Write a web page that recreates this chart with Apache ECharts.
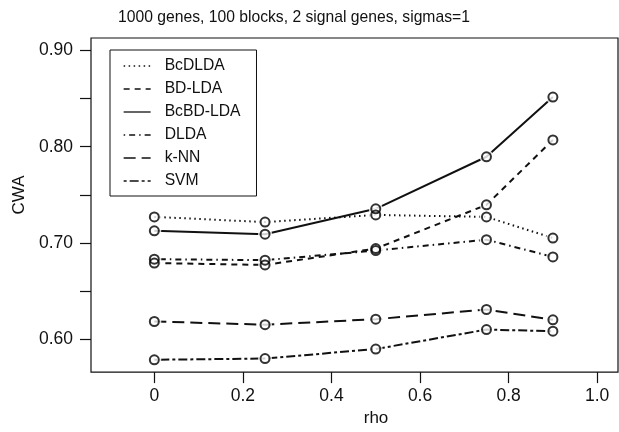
<!DOCTYPE html>
<html>
<head>
<meta charset="utf-8">
<script src="https://cdn.jsdelivr.net/npm/echarts@6/dist/echarts.min.js"></script>
<style>
html,body{margin:0;padding:0;background:#fff;}
#chart{width:619px;height:432px;}
</style>
</head>
<body>
<div id="chart"></div>
<script>
const rho = [0, 0.25, 0.5, 0.75, 0.9];
const seriesNames = ['BcDLDA', 'BD-LDA', 'BcBD-LDA', 'DLDA', 'k-NN', 'SVM'];
const bcdlda  = [0.727, 0.7216, 0.729, 0.727, 0.705];
const bdlda   = [0.679, 0.677, 0.694, 0.7395, 0.807];
const bcbdlda = [0.7125, 0.709, 0.7354, 0.7895, 0.8516];
const dlda    = [0.683, 0.682, 0.692, 0.7033, 0.6854];
const knn     = [0.6182, 0.6149, 0.6206, 0.6307, 0.620];
const svm     = [0.5784, 0.5797, 0.5896, 0.6098, 0.6081];
const xTicks = [0, 0.2, 0.4, 0.6, 0.8, 1.0];
const yTicks = [0.60, 0.65, 0.70, 0.75, 0.80, 0.85, 0.90];
const yLabels = [0.60, 0.70, 0.80, 0.90];
const titleText = '1000 genes, 100 blocks, 2 signal genes, sigmas=1';

const values = [bcdlda, bdlda, bcbdlda, dlda, knn, svm];
const dashes = [[1.5, 3.5], [6, 5], 'solid', [1.5, 4, 6, 4], [12, 6], [3, 3, 9, 3]];
const FONT = '"Liberation Sans", Arial, sans-serif';
const INK = '#111';

const pairs = v => rho.map((x, i) => [x, v[i]]);
const series = [];
values.forEach((v, k) => {
  series.push({
    name: seriesNames[k], type: 'line', data: pairs(v), symbol: 'none', color: INK,
    itemStyle: { color: INK, opacity: 0 },
    lineStyle: { color: INK, width: 2, type: dashes[k] }, z: 2, animation: false
  });
});
values.forEach((v, k) => {
  series.push({
    name: 'halo' + k, type: 'scatter', data: pairs(v), symbol: 'circle', symbolSize: 14,
    itemStyle: { color: '#fff' }, z: 3, animation: false, silent: true
  });
});
values.forEach((v, k) => {
  series.push({
    name: 'pt' + k, type: 'scatter', data: pairs(v), symbol: 'circle', symbolSize: 9,
    itemStyle: { color: 'rgba(0,0,0,0)', borderColor: '#000', borderWidth: 2 }, z: 4, animation: false, silent: true
  });
});

const chart = echarts.init(document.getElementById('chart'), null, { renderer: 'canvas' });
chart.setOption({
  animation: false,
  backgroundColor: '#fff',
  title: {
    text: titleText, left: 118, top: 10, padding: 0,
    textStyle: { fontFamily: FONT, fontSize: 15.7, fontWeight: 'normal', color: INK }
  },
  legend: {
    data: seriesNames, orient: 'vertical', left: 110, top: 50,
    itemWidth: 27, itemHeight: 14, itemGap: 7,
    padding: [8, 16, 7, 13],
    borderColor: INK, borderWidth: 1,
    itemStyle: { opacity: 0 },
    lineStyle: { color: INK, width: 1.3 },
    textStyle: { fontFamily: FONT, fontSize: 15.7, color: INK, padding: [0, 0, 0, 9] },
    selectedMode: false
  },
  grid: { left: 91, top: 38, right: 1, bottom: 52, show: true, borderColor: INK, borderWidth: 1.2, containLabel: false },
  xAxis: {
    type: 'value', min: -0.143, max: 1.047,
    name: 'rho', nameLocation: 'middle', nameGap: 34,
    nameTextStyle: { fontFamily: FONT, fontSize: 17, color: INK, padding: [0, 0, 0, 43] },
    axisLine: { show: false, onZero: false },
    splitLine: { show: false },
    axisTick: { show: true, length: 11, inside: false, customValues: xTicks, lineStyle: { color: INK, width: 1.2 } },
    axisLabel: {
      customValues: xTicks, margin: 15, fontFamily: FONT, fontSize: 17.5, color: INK,
      formatter: v => (v === 0 ? '0' : v.toFixed(1))
    }
  },
  yAxis: {
    type: 'value', min: 0.5656, max: 0.913,
    name: 'CWA', nameLocation: 'middle', nameGap: 62,
    nameTextStyle: { fontFamily: FONT, fontSize: 17, color: INK, padding: [0, 0, 0, 20] },
    axisLine: { show: false, onZero: false },
    splitLine: { show: false },
    axisTick: { show: true, length: 11, inside: false, customValues: yTicks, lineStyle: { color: INK, width: 1.2 } },
    axisLabel: {
      customValues: yLabels, margin: 18, fontFamily: FONT, fontSize: 17.5, color: INK,
      formatter: v => v.toFixed(2)
    }
  },
  series: series
});
</script>
</body>
</html>
